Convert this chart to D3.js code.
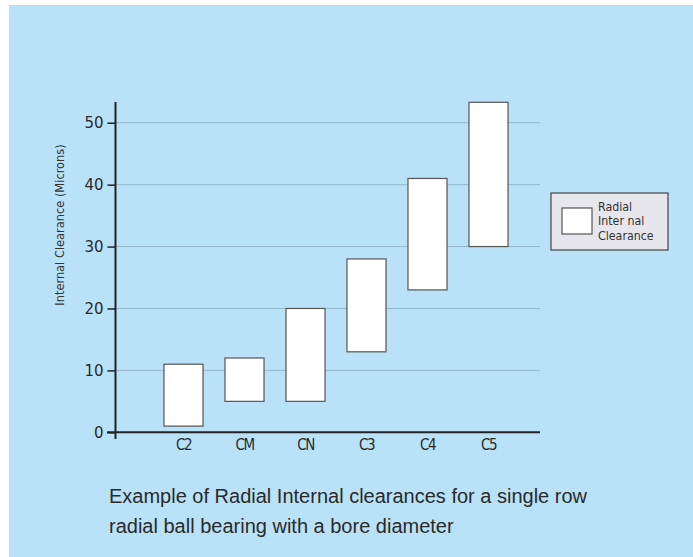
<!DOCTYPE html>
<html><head><meta charset="utf-8">
<script src="https://cdn.jsdelivr.net/npm/d3@7"></script>
<style>html,body{margin:0;padding:0;background:#fff;}svg{display:block;}</style>
</head><body>
<script>
const categories = ["C2", "CM", "CN", "C3", "C4", "C5"];
const minValues = [1, 5, 5, 13, 23, 30];
const maxValues = [11, 12, 20, 28, 41, 53.3];
const yTicks = [0, 10, 20, 30, 40, 50];
const legendLines = ["Radial", "Inter nal", "Clearance"];
const titleLines = ["Example of Radial Internal clearances for a single row", "radial ball bearing with a bore diameter"];
const yTitle = "Internal Clearance (Microns)";

const W = 693, H = 557;
const svg = d3.select("body").append("svg").attr("width", W).attr("height", H);
svg.append("rect").attr("x", 9).attr("y", 5).attr("width", W - 9).attr("height", H - 5).attr("fill", "#b9e2f8");

const y = d3.scaleLinear().domain([0, 53.3]).range([432.3, 102.3]);
const x = d3.scaleBand().domain(categories).range([153, 519]).paddingInner(0.36).paddingOuter(0.18);
const axisX = 115.5, xEnd = 540;

// gridlines
svg.append("g").selectAll("line").data(yTicks.filter(d => d > 0)).join("line")
  .attr("x1", axisX).attr("x2", xEnd).attr("y1", d => y(d)).attr("y2", d => y(d))
  .attr("stroke", "#93b8cc").attr("stroke-width", 1);

// bars
svg.append("g").selectAll("rect").data(categories).join("rect")
  .attr("x", d => x(d)).attr("width", x.bandwidth())
  .attr("y", (d, i) => y(maxValues[i])).attr("height", (d, i) => y(minValues[i]) - y(maxValues[i]))
  .attr("fill", "#ffffff").attr("stroke", "#555").attr("stroke-width", 1.2);

// y axis
const yAxis = d3.axisLeft(y).tickValues(yTicks).tickSize(8).tickPadding(4).tickFormat(d3.format("d"));
const gy = svg.append("g").attr("transform", `translate(${axisX},0)`).call(yAxis);
gy.select(".domain").remove();
gy.selectAll(".tick line").attr("stroke", "#222").attr("stroke-width", 1.5);
gy.selectAll(".tick text").attr("fill", "#2a2a2a").style("font-family", "'DejaVu Sans', sans-serif").style("font-size", "15px");
svg.append("line").attr("x1", axisX).attr("x2", axisX).attr("y1", 102).attr("y2", 439).attr("stroke", "#222").attr("stroke-width", 2);
svg.append("line").attr("x1", 107).attr("x2", xEnd).attr("y1", y(0)).attr("y2", y(0)).attr("stroke", "#222").attr("stroke-width", 2);

// x axis labels
const xAxis = d3.axisBottom(x).tickSize(0).tickPadding(7);
const gx = svg.append("g").attr("transform", `translate(0,${y(0)})`).call(xAxis);
gx.select(".domain").remove();
gx.selectAll(".tick text").attr("fill", "#2a2a2a").style("font-family", "'DejaVu Sans Condensed', 'DejaVu Sans', sans-serif").style("font-size", "15px").style("letter-spacing", "-1.5px");

// y title
svg.append("text").attr("transform", "translate(64,225) rotate(-90)").attr("text-anchor", "middle")
  .attr("fill", "#333").style("font-family", "'DejaVu Sans Condensed', 'DejaVu Sans', sans-serif").style("font-size", "12.7px")
  .text(yTitle);

// legend
const lg = svg.append("g");
lg.append("rect").attr("x", 551).attr("y", 193).attr("width", 117).attr("height", 57)
  .attr("fill", "#e6e6ec").attr("stroke", "#444").attr("stroke-width", 1.2);
lg.append("rect").attr("x", 562).attr("y", 208).attr("width", 30).attr("height", 26)
  .attr("fill", "#fff").attr("stroke", "#555").attr("stroke-width", 1.2);
lg.selectAll("text").data(legendLines).join("text")
  .attr("x", 598).attr("y", (d, i) => 210.5 + i * 14.5)
  .attr("fill", "#333").style("font-family", "'DejaVu Sans Condensed', 'DejaVu Sans', sans-serif").style("font-size", "12.3px")
  .text(d => d);

// title
svg.append("g").selectAll("text").data(titleLines).join("text")
  .attr("x", 109).attr("y", (d, i) => 503 + i * 30)
  .attr("fill", "#2a2a2a").style("font-family", "'Liberation Sans', Arial, sans-serif").style("font-size", "20px")
  .text(d => d);
</script>
</body></html>
